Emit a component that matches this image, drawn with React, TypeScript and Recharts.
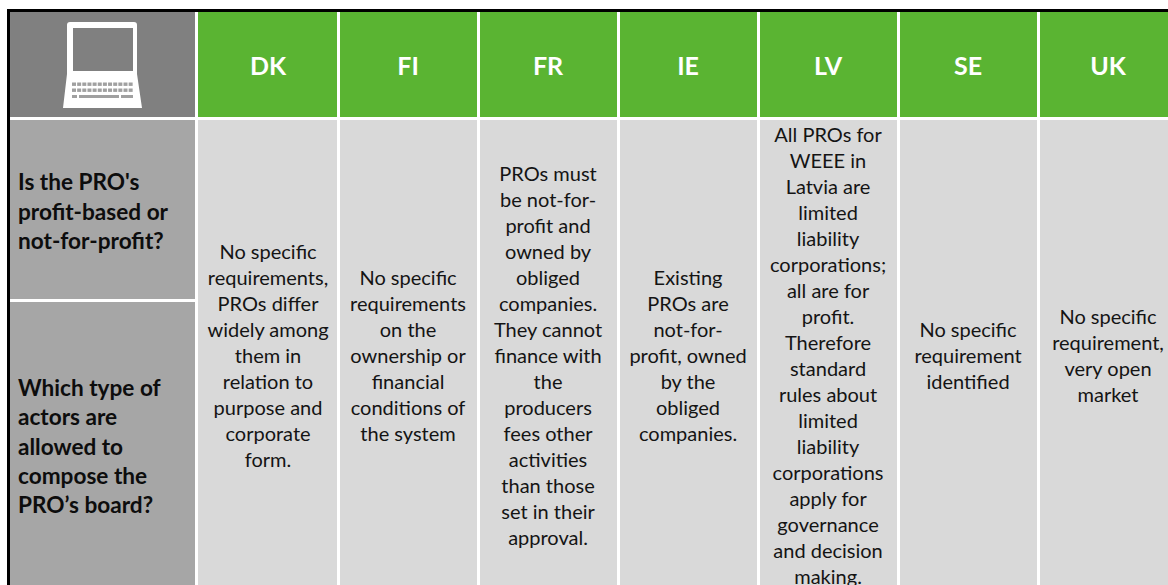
import { ComposedChart, ReferenceArea, Scatter, XAxis, YAxis } from 'recharts';

const countries = ['DK', 'FI', 'FR', 'IE', 'LV', 'SE', 'UK'];

const questions = [
  ['Is the PRO\'s', 'profit-based or', 'not-for-profit?'],
  ['Which type of', 'actors are', 'allowed to', 'compose the', 'PRO’s board?'],
];

const answers = [
  ['No specific', 'requirements,', 'PROs differ', 'widely among', 'them in', 'relation to', 'purpose and', 'corporate', 'form.'],
  ['No specific', 'requirements', 'on the', 'ownership or', 'financial', 'conditions of', 'the system'],
  ['PROs must', 'be not-for-', 'profit and', 'owned by', 'obliged', 'companies.', 'They cannot', 'finance with', 'the', 'producers', 'fees other', 'activities', 'than those', 'set in their', 'approval.'],
  ['Existing', 'PROs are', 'not-for-', 'profit, owned', 'by the', 'obliged', 'companies.'],
  ['All PROs for', 'WEEE in', 'Latvia are', 'limited', 'liability', 'corporations;', 'all are for', 'profit.', 'Therefore', 'standard', 'rules about', 'limited', 'liability', 'corporations', 'apply for', 'governance', 'and decision', 'making.'],
  ['No specific', 'requirement', 'identified'],
  ['No specific', 'requirement,', 'very open', 'market'],
];

const WIDTH = 1168;
const HEIGHT = 585;
const FONT = 'Lato, "Open Sans", sans-serif';
const GREEN = '#5ab432';

// x axis runs in column numbers (one column = 140px), y axis in pixels of the table's height
const X_DOMAIN = [-1.4286, 6.9143];
const BORDER_LEFT = -1.3786;
const FIRST_COL = -1.3571;
const FIRST_COL_END = -0.0357;
const DK_START = -0.0143;
const GAP = 0.0214;
const TOP_LINE = 9;
const HEAD_TOP = 12;
const HEAD_BOTTOM = 117;
const BODY_TOP = 120;
const SPLIT = 299;

const headerPoints = countries.map((c, i) => ({ col: i + 0.486, mid: 65, lines: [c] }));
const answerPoints = answers.map((lines, i) => ({ col: i + 0.486, mid: 355, lines }));
const questionPoints = [
  { col: FIRST_COL, mid: 211, lines: questions[0] },
  { col: FIRST_COL, mid: 446, lines: questions[1] },
];
const iconPoints = [{ col: -1, mid: 12 }];

function centeredText(fontSize: number, lineHeight: number, fill: string, weight: number) {
  return (props: any) => {
    const { cx, cy, payload } = props;
    const lines: string[] = payload.lines;
    const top = cy - ((lines.length - 1) * lineHeight) / 2;
    return (
      <text textAnchor="middle" fontFamily={FONT} fontSize={fontSize} fontWeight={weight} fill={fill}>
        {lines.map((l, i) => (
          <tspan key={i} x={cx} y={top + i * lineHeight} dominantBaseline="central">
            {l}
          </tspan>
        ))}
      </text>
    );
  };
}

function questionText(props: any) {
  const { cx, cy, payload } = props;
  const lines: string[] = payload.lines;
  const top = cy - ((lines.length - 1) * 29.4) / 2;
  return (
    <text fontFamily={FONT} fontSize={22.6} fontWeight={700} fill="#0d0d0d">
      {lines.map((l, i) => (
        <tspan key={i} x={cx + 8} y={top + i * 29.4} dominantBaseline="central">
          {l}
        </tspan>
      ))}
    </text>
  );
}

function laptopIcon(props: any) {
  const { cx, cy } = props;
  const keyRows = [82.5, 88.5];
  const keys = Array.from({ length: 12 }, (_, k) => k);
  return (
    <g transform={`translate(${cx - 60},${cy - 12})`}>
      <path d="M67 25q0-3 3-3h64q3 0 3 3v49l5 34H63l4-34z" fill="#fff" />
      <rect x={73} y={28} width={60} height={43} fill="#808080" />
      {keyRows.map((y) =>
        keys.map((k) => <rect key={`${y}-${k}`} x={72 + k * 5.15} y={y} width={4} height={3.4} fill="#a0a0a0" />),
      )}
      <rect x={72} y={95} width={5} height={3} fill="#a0a0a0" />
      <rect x={79} y={95} width={40} height={3} fill="#a0a0a0" />
      <rect x={121} y={95} width={12} height={3} fill="#a0a0a0" />
    </g>
  );
}

const solid = { fillOpacity: 1, stroke: 'none', ifOverflow: 'visible' as const };

export default function App() {
  return (
    <div style={{ position: 'absolute', left: 0, top: 0, width: WIDTH, height: HEIGHT, overflow: 'hidden', background: '#fff' }}>
      <ComposedChart width={WIDTH} height={HEIGHT} margin={{ top: 0, right: 0, bottom: 0, left: 0 }} data={answerPoints}>
        <XAxis type="number" dataKey="col" domain={X_DOMAIN} hide allowDataOverflow />
        <YAxis type="number" dataKey="mid" domain={[0, HEIGHT]} reversed hide allowDataOverflow />

        {/* black top and left rules */}
        <ReferenceArea x1={BORDER_LEFT} x2={X_DOMAIN[1]} y1={TOP_LINE} y2={HEAD_TOP} fill="#000" {...solid} />
        <ReferenceArea x1={BORDER_LEFT} x2={FIRST_COL} y1={TOP_LINE} y2={HEIGHT} fill="#000" {...solid} />

        {/* first column */}
        <ReferenceArea x1={FIRST_COL} x2={FIRST_COL_END} y1={HEAD_TOP} y2={HEAD_BOTTOM} fill="#808080" {...solid} />
        <ReferenceArea x1={FIRST_COL} x2={FIRST_COL_END} y1={BODY_TOP} y2={SPLIT} fill="#a6a6a6" {...solid} />
        <ReferenceArea x1={FIRST_COL} x2={FIRST_COL_END} y1={SPLIT + 3} y2={HEIGHT} fill="#a6a6a6" {...solid} />

        {countries.map((c, i) => (
          <ReferenceArea
            key={`head-${c}`}
            x1={i === 0 ? DK_START : i}
            x2={Math.min(i + 1 - GAP, X_DOMAIN[1])}
            y1={HEAD_TOP}
            y2={HEAD_BOTTOM}
            fill={GREEN}
            {...solid}
          />
        ))}
        {countries.map((c, i) => (
          <ReferenceArea
            key={`body-${c}`}
            x1={i === 0 ? DK_START : i}
            x2={Math.min(i + 1 - GAP, X_DOMAIN[1])}
            y1={BODY_TOP}
            y2={HEIGHT}
            fill="#d9d9d9"
            {...solid}
          />
        ))}

        <Scatter data={headerPoints} isAnimationActive={false} shape={centeredText(25, 26, '#fff', 700)} />
        <Scatter data={answerPoints} isAnimationActive={false} shape={centeredText(20, 26, '#141414', 400)} />
        <Scatter data={questionPoints} isAnimationActive={false} shape={questionText} />
        <Scatter data={iconPoints} isAnimationActive={false} shape={laptopIcon} />
      </ComposedChart>
    </div>
  );
}
